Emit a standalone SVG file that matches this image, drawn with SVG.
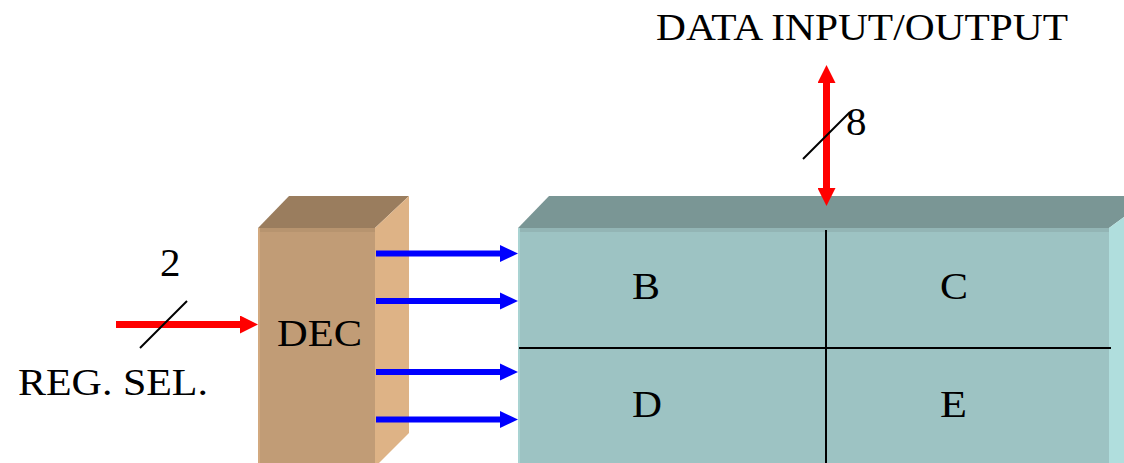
<svg xmlns="http://www.w3.org/2000/svg" width="1124" height="463" viewBox="0 0 1124 463">
<style>
text{font-family:"Liberation Serif","Times New Roman",serif;font-size:38px;fill:#000}
.digit{font-size:41px}
.blue{stroke:#0000ff;stroke-width:6;fill:none}
.red{stroke:#ff0000;stroke-width:7;fill:none}
.thin{stroke:#000;stroke-width:2;fill:none}
</style>
<defs>
<marker id="ab" markerUnits="userSpaceOnUse" markerWidth="18" markerHeight="18" refX="3" refY="9" orient="auto-start-reverse"><path d="M0 0.500L18 9L0 17.500Z" fill="#0000ff"/></marker>
<marker id="ar" markerUnits="userSpaceOnUse" markerWidth="18" markerHeight="18" refX="3" refY="9" orient="auto-start-reverse"><path d="M0 0L18 9L0 18Z" fill="#ff0000"/></marker>
</defs>
<g id="dec">
<polygon points="258,228 289,196 409,196 375,228" fill="#9a7d5e"/>
<polygon points="375,228 409,196 409,433 379,463 375,463" fill="#deb386"/>
<rect x="258" y="228" width="117" height="235" fill="#c19c76"/>
<rect x="258" y="228" width="117" height="4" fill="#b7946f"/>
<rect x="258" y="228" width="2" height="235" fill="#d2a97f"/>
<rect x="375" y="228" width="3" height="235" fill="#deb386"/>
<text x="277" y="346" textLength="85" lengthAdjust="spacingAndGlyphs">DEC</text>
</g>
<g id="registers">
<polygon points="518,228 549,196 1124,196 1124,217 1109,228" fill="#7a9695"/>
<polygon points="1109,228 1124,217 1124,463 1109,463" fill="#b0dedd"/>
<rect x="518" y="228" width="591" height="235" fill="#9dc3c3"/>
<rect x="518" y="228" width="591" height="4" fill="#93b5b5"/>
<rect x="518" y="228" width="2" height="235" fill="#a9d3d2"/>
<path class="thin" d="M826 230V463M519 348H1111"/>
<text x="632" y="299" textLength="28" lengthAdjust="spacingAndGlyphs">B</text>
<text x="940" y="299" textLength="28" lengthAdjust="spacingAndGlyphs">C</text>
<text x="632" y="417" textLength="30" lengthAdjust="spacingAndGlyphs">D</text>
<text x="940" y="417" textLength="27" lengthAdjust="spacingAndGlyphs">E</text>
</g>
<g id="connectors">
<line class="blue" x1="376" y1="253.500" x2="503" y2="253.500" marker-end="url(#ab)"/>
<line class="blue" x1="376" y1="301" x2="503" y2="301" marker-end="url(#ab)"/>
<line class="blue" x1="376" y1="372" x2="503" y2="372" marker-end="url(#ab)"/>
<line class="blue" x1="376" y1="419.500" x2="503" y2="419.500" marker-end="url(#ab)"/>
<line class="red" x1="116" y1="324.500" x2="243" y2="324.500" marker-end="url(#ar)"/>
<line class="red" x1="826.500" y1="80" x2="826.500" y2="191" marker-start="url(#ar)" marker-end="url(#ar)"/>
<line class="thin" x1="140" y1="348" x2="187" y2="301"/>
<line class="thin" x1="803" y1="159" x2="850" y2="112"/>
</g>
<g id="labels">
<text x="656" y="40" textLength="412" lengthAdjust="spacingAndGlyphs">DATA INPUT/OUTPUT</text>
<text class="digit" x="846" y="135">8</text>
<text class="digit" x="160" y="276">2</text>
<text x="18" y="395" textLength="190" lengthAdjust="spacingAndGlyphs">REG. SEL.</text>
</g>
</svg>
